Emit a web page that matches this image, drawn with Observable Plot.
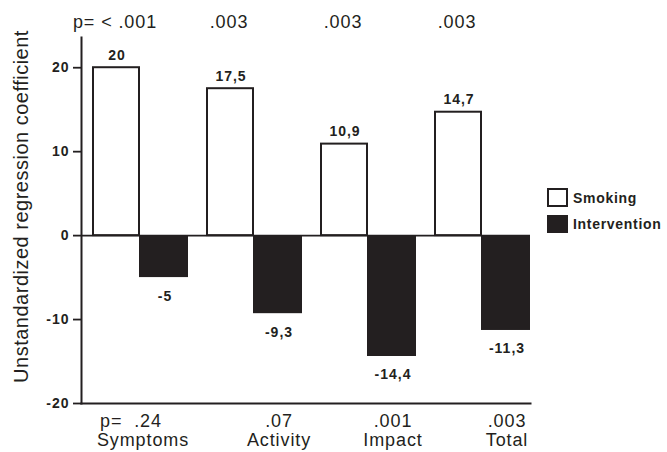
<!DOCTYPE html>
<html><head><meta charset="utf-8">
<script src="https://cdn.jsdelivr.net/npm/d3@7"></script>
<script src="https://cdn.jsdelivr.net/npm/@observablehq/plot@0.6"></script>
<style>
body{margin:0;background:#fff;}
#wrap{position:relative;width:667px;height:452px;font-family:"Liberation Sans",Arial,sans-serif;color:#231f20;}
.leg{position:absolute;left:547px;display:flex;align-items:center;font-weight:bold;font-size:14px;letter-spacing:0.7px;white-space:nowrap}
.sw{box-sizing:border-box;width:21px;border:2px solid #231f20;margin-right:5px}
</style></head><body><div id="wrap"></div>
<script>
const categories = ["Symptoms", "Activity", "Impact", "Total"];
const smoking = [20, 17.5, 10.9, 14.7];
const intervention = [-5, -9.3, -14.4, -11.3];
const smokingLabels = ["20", "17,5", "10,9", "14,7"];
const interventionLabels = ["-5", "-9,3", "-14,4", "-11,3"];
const topP = ["p= < .001", ".003", ".003", ".003"];
const bottomP = ["p=  .24", ".07", ".001", ".003"];
const yTicks = [-20, -10, 0, 10, 20];
const seriesNames = ["Smoking", "Intervention"];
const yLabel = "Unstandardized regression coefficient";

const ink = "#231f20";
const sRows = categories.map((c, i) => ({category: c, value: smoking[i], label: smokingLabels[i], p: topP[i], bp: bottomP[i]}));
const iRows = categories.map((c, i) => ({category: c, value: intervention[i], label: interventionLabels[i]}));
const first = (d, i) => i === 0;
const rest = (d, i) => i > 0;

const chart = Plot.plot({
  width: 667, height: 452,
  marginLeft: 81, marginRight: 137, marginTop: 37, marginBottom: 49,
  style: {fontFamily: "Liberation Sans, Arial, sans-serif", color: ink, background: "white"},
  x: {domain: categories, paddingInner: 0.167, paddingOuter: 0.048, align: 1, axis: null},
  y: {domain: [-20, 23.6], axis: null},
  marks: [
    Plot.ruleY([0], {stroke: ink, strokeWidth: 1.8}),
    Plot.barY(sRows, {x: "category", y: "value", fill: "white", stroke: ink, strokeWidth: 2, insetRight: 49}),
    Plot.barY(iRows, {x: "category", y: "value", fill: ink, insetLeft: 46}),
    Plot.text(sRows, {x: "category", y: "value", text: "label", dx: -24, dy: -8, lineAnchor: "bottom", fontWeight: "bold", fontSize: 14, fill: ink}),
    Plot.text(iRows, {x: "category", y: "value", text: "label", dx: 24, dy: 23, lineAnchor: "bottom", fontWeight: "bold", fontSize: 14, fill: ink}),
    Plot.text(sRows, {x: "category", text: "p", frameAnchor: "top", dx: -26, dy: -10, lineAnchor: "bottom", fontSize: 18, fill: ink}),
    Plot.text(sRows, {x: "category", text: "bp", frameAnchor: "bottom", dx: 24, dy: 11, lineAnchor: "top", fontSize: 18, fill: ink, filter: rest}),
    Plot.text(sRows, {x: "category", text: "bp", frameAnchor: "bottom", dx: -10, dy: 11, lineAnchor: "top", fontSize: 18, fill: ink, filter: first}),
    Plot.text(sRows, {x: "category", text: "category", frameAnchor: "bottom", dx: 24, dy: 30, lineAnchor: "top", fontSize: 18, fill: ink, filter: rest}),
    Plot.text(sRows, {x: "category", text: "category", frameAnchor: "bottom", dx: 2, dy: 30, lineAnchor: "top", fontSize: 18, fill: ink, filter: first}),
    Plot.axisY({ticks: yTicks, tickSize: 8, tickPadding: 4, tickFormat: d => String(d), fontSize: 14, fontWeight: "bold", label: null, stroke: ink, strokeWidth: 1.8, fill: ink}),
    Plot.frame({anchor: "left", stroke: ink, strokeWidth: 2}),
    Plot.frame({anchor: "bottom", stroke: ink, strokeWidth: 2}),
    Plot.text([yLabel], {frameAnchor: "left", textAnchor: "middle", rotate: -90, dx: -60, dy: -14, fontSize: 20, fill: ink})
  ]
});
d3.select(chart).selectAll('g[font-size="18"]').attr("letter-spacing", "0.9");
d3.select(chart).selectAll('g[font-size="14"]').attr("letter-spacing", "1");
d3.select(chart).selectAll('g[font-size="20"]').attr("letter-spacing", "0.5");
const wrap = document.getElementById("wrap");
wrap.appendChild(chart);

const legendStyles = [{top: 188, h: 19, fill: "white"}, {top: 215, h: 18, fill: ink}];
seriesNames.forEach((name, i) => {
  const s = legendStyles[i];
  const row = document.createElement("div");
  row.className = "leg";
  row.style.top = s.top + "px";
  row.style.height = s.h + "px";
  const sw = document.createElement("div");
  sw.className = "sw";
  sw.style.height = s.h + "px";
  sw.style.background = s.fill;
  const t = document.createElement("span");
  t.textContent = name;
  row.appendChild(sw); row.appendChild(t);
  wrap.appendChild(row);
});
</script></body></html>
